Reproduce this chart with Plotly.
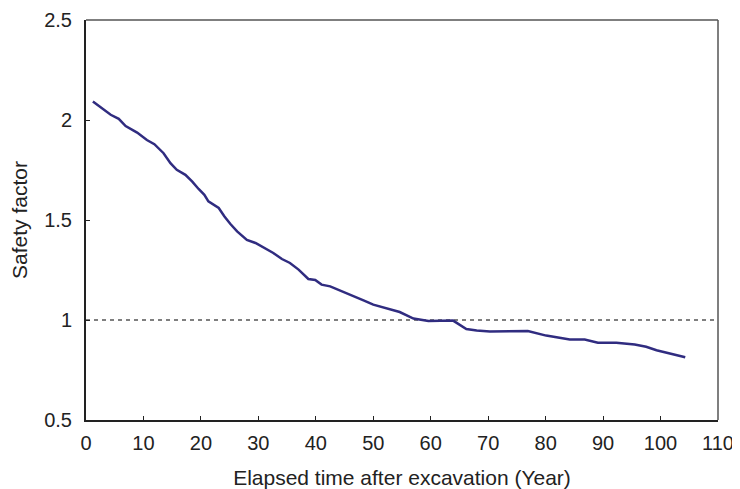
import plotly.graph_objects as go

years = [1.2, 4.3, 5.7, 6.9, 8.9, 10.6, 11.9, 13.5, 14.7, 15.8, 17.3, 18.5, 19.6, 20.6, 21.3,
         23.1, 24.1, 25.1, 26.3, 28.0, 29.5, 30.9, 32.6, 34.1, 35.5, 37.0, 38.7, 39.9, 41.0,
         42.5, 45.4, 48.3, 50.0, 52.3, 54.6, 57.0, 59.6, 63.9, 65.1, 66.2, 68.0, 70.3, 76.9,
         80.1, 84.2, 86.8, 89.1, 92.3, 95.5, 97.5, 99.3, 101.3, 104.3]
safety = [2.092, 2.026, 2.006, 1.970, 1.937, 1.900, 1.879, 1.834, 1.784, 1.751, 1.726, 1.692,
          1.655, 1.626, 1.593, 1.560, 1.518, 1.481, 1.443, 1.400, 1.385, 1.363, 1.335, 1.305,
          1.285, 1.252, 1.205, 1.200, 1.177, 1.168, 1.135, 1.098, 1.077, 1.057, 1.040, 1.007,
          0.995, 0.997, 0.977, 0.955, 0.947, 0.943, 0.945, 0.922, 0.902, 0.902, 0.886, 0.886,
          0.877, 0.866, 0.849, 0.836, 0.814]
threshold_x = [0, 110]
threshold_y = [1, 1]

x_ticks = list(range(0, 111, 10))
y_ticks = [0.5, 1, 1.5, 2, 2.5]
y_tick_text = ["0.5", "1", "1.5", "2", "2.5"]

FAM = "Liberation Sans, Arial, sans-serif"
tickfont = dict(family=FAM, size=20, color="#222222")
titlefont = dict(family=FAM, size=21, color="#222222")

fig = go.Figure()
fig.add_trace(go.Scatter(x=threshold_x, y=threshold_y, mode="lines",
                         line=dict(color="#555555", width=1.3, dash="4px,4px"),
                         showlegend=False, hoverinfo="skip"))
fig.add_trace(go.Scatter(x=years, y=safety, mode="lines",
                         line=dict(color="#302c80", width=2.5),
                         showlegend=False))

# top and right frame lines, lighter than the main axes
fig.add_shape(type="line", xref="paper", yref="paper", x0=0, x1=1, y0=1, y1=1,
              line=dict(color="#555555", width=1.5))
fig.add_shape(type="line", xref="paper", yref="paper", x0=1, x1=1, y0=0, y1=1,
              line=dict(color="#555555", width=1.5))

# page body adds an 8px offset, so the figure is sized/margined to compensate
fig.update_layout(
    width=732, height=481,
    margin=dict(l=77.5, r=21.5, t=12, b=68.5),
    paper_bgcolor="white", plot_bgcolor="white",
    font=dict(family=FAM, size=20, color="#222222"),
    xaxis=dict(range=[0, 110], tickvals=x_ticks, ticks="inside", ticklen=4,
               tickcolor="#222222", showline=True, linecolor="#222222", linewidth=2,
               showgrid=False, zeroline=False, automargin=False,
               tickfont=tickfont,
               title=dict(text="Elapsed time after excavation (Year)", font=titlefont, standoff=17),
               ticklabelstandoff=4),
    yaxis=dict(range=[0.5, 2.5], tickvals=y_ticks, ticktext=y_tick_text, ticks="inside",
               ticklen=4, tickcolor="#222222", showline=True, linecolor="#222222",
               linewidth=2, showgrid=False, zeroline=False, automargin=False,
               tickfont=tickfont,
               title=dict(text="Safety factor", font=titlefont, standoff=12),
               ticklabelstandoff=8),
)
fig.write_html("out.html")
